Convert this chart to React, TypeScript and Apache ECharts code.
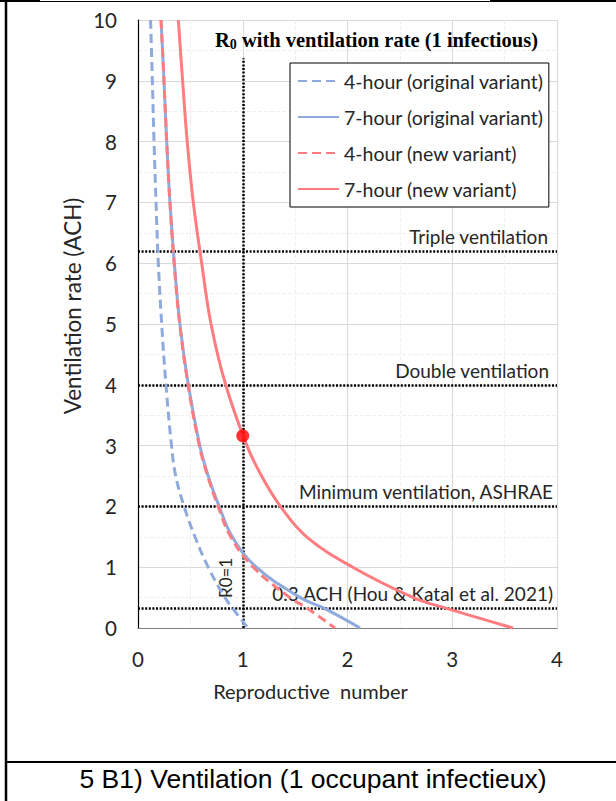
import React, { useEffect, useRef } from "react";
import * as echarts from "echarts";

// Ventilation rate (ACH) levels at which the curves were read
const achLevels = [10, 9, 8, 7, 6, 5, 4, 3, 2.5, 2, 1.5, 1, 0.5, 0.33, 0];
// Reproductive number for each series at those levels
const r4hOriginal = [0.12, 0.137, 0.153, 0.172, 0.194, 0.226, 0.267, 0.32, 0.36, 0.44, 0.544, 0.67, 0.83, 0.9, 1.05];
const r7hOriginal = [0.22, 0.248, 0.274, 0.305, 0.347, 0.4, 0.48, 0.59, 0.67, 0.775, 0.9, 1.13, 1.55, 1.77, 2.12];
const r4hNew = [0.22, 0.248, 0.274, 0.305, 0.345, 0.398, 0.478, 0.585, 0.665, 0.765, 0.885, 1.1, 1.45, 1.61, 1.88];
const r7hNew = [0.385, 0.426, 0.47, 0.528, 0.608, 0.697, 0.837, 1.04, 1.18, 1.36, 1.61, 2.05, 2.63, 2.93, 3.58];

const seriesNames = [
  "4-hour (original variant)",
  "7-hour (original variant)",
  "4-hour (new variant)",
  "7-hour (new variant)",
];

// Reference ventilation levels and their labels
const refLevels = [6.2, 4, 2, 0.33];
const refLabels = [
  "Triple ventilation",
  "Double ventilation",
  "Minimum ventilation, ASHRAE",
  "0.3 ACH (Hou & Katal et al. 2021)",
];
const refLabelOffsets = [9, 8, 4, 4];
const r0Line = 1;
const r0LineTop = 9.37;
const highlightPoint = [1, 3.16];

const xTicks = [0, 1, 2, 3, 4];
const yTicks = [0, 1, 2, 3, 4, 5, 6, 7, 8, 9, 10];

const FONT = "Lato";
const BLUE = "#8faadc";
const RED = "#ff7c80";

const pairs = (rs: number[]) => rs.map((r, i) => [r, achLevels[i]]);

export default function App() {
  const ref = useRef<HTMLDivElement>(null);
  useEffect(() => {
    if (!ref.current) return;
    const chart = echarts.init(ref.current, null, { renderer: "svg" });
    const lineBase = {
      type: "line",
      symbol: "none",
      smooth: 0.4,
      z: 3,
    };
    const option: any = {
      animation: false,
      backgroundColor: "#ffffff",
      title: {
        text: "{a|R}{b|0}{a| with ventilation rate (1 infectious)}",
        left: 215,
        top: 28,
        padding: 0,
        textStyle: {
          rich: {
            a: { fontFamily: "Liberation Serif", fontWeight: "bold", fontSize: 20.5, color: "#000" },
            b: { fontFamily: "Liberation Serif", fontWeight: "bold", fontSize: 14, color: "#000", padding: [9, 0, 0, 0] },
          },
        },
      },
      grid: { left: 138, top: 20, width: 419, height: 608, containLabel: false },
      legend: {
        orient: "vertical",
        left: 290,
        top: 63,
        padding: [8, 5, 8, 7],
        itemGap: 16,
        itemWidth: 41,
        itemHeight: 18,
        borderColor: "#000",
        borderWidth: 1,
        backgroundColor: "#fff",
        itemStyle: { opacity: 0 },
        textStyle: { fontFamily: FONT, fontSize: 19.5, color: "#262626", lineHeight: 20 },
        data: seriesNames,
        z: 10,
      },
      xAxis: [
        {
          type: "value",
          min: 0,
          max: 4,
          interval: 1,
          axisLine: { lineStyle: { color: "#a6a6a6", width: 1 } },
          axisTick: { show: false },
          axisLabel: {
            margin: 20,
            fontFamily: FONT,
            fontSize: 20.5,
            color: "#262626",
            customValues: xTicks,
          },
          splitLine: { lineStyle: { color: "#d9d9d9", width: 1 } },
          minorTick: { show: false, splitNumber: 2 },
          minorSplitLine: { show: true, lineStyle: { color: "#efefef", type: "dashed" } },
        },
        {
          type: "value",
          position: "top",
          min: 0,
          max: 4,
          interval: 1,
          axisLine: { show: true, lineStyle: { color: "#7f7f7f", width: 1 } },
          axisTick: { show: false },
          axisLabel: { show: false },
          splitLine: { show: false },
        },
      ],
      yAxis: [
        {
          type: "value",
          min: 0,
          max: 10,
          interval: 1,
          axisLine: { show: true, lineStyle: { color: "#a6a6a6", width: 1 } },
          axisTick: { show: false },
          axisLabel: {
            margin: 21,
            fontFamily: FONT,
            fontSize: 20.5,
            color: "#262626",
            customValues: yTicks,
          },
          splitLine: { lineStyle: { color: "#d9d9d9", width: 1 } },
          minorTick: { show: false, splitNumber: 2 },
          minorSplitLine: { show: true, lineStyle: { color: "#efefef", type: "dashed" } },
        },
        {
          type: "value",
          position: "right",
          min: 0,
          max: 10,
          interval: 1,
          axisLine: { show: true, lineStyle: { color: "#000", width: 1.2 } },
          axisTick: { show: false },
          axisLabel: { show: false },
          splitLine: { show: false },
        },
      ],
      series: [
        {
          ...lineBase,
          name: seriesNames[0],
          data: pairs(r4hOriginal),
          color: BLUE,
          lineStyle: { color: BLUE, width: 3, type: [9, 5] },
        },
        {
          ...lineBase,
          name: seriesNames[1],
          data: pairs(r7hOriginal),
          color: BLUE,
          lineStyle: { color: BLUE, width: 3, type: "solid" },
        },
        {
          ...lineBase,
          name: seriesNames[2],
          data: pairs(r4hNew),
          color: RED,
          lineStyle: { color: RED, width: 3, type: [9, 5] },
          z: 4,
        },
        {
          ...lineBase,
          name: seriesNames[3],
          data: pairs(r7hNew),
          color: RED,
          lineStyle: { color: RED, width: 3, type: "solid" },
          z: 4,
        },
        {
          type: "scatter",
          name: "point",
          data: [highlightPoint],
          symbolSize: 13,
          itemStyle: { color: "#ff0000" },
          z: 6,
          markLine: {
            silent: true,
            symbol: ["none", "none"],
            z: 2,
            lineStyle: { color: "#000", width: 2.5, type: [2, 1.6] },
            label: {
              fontFamily: FONT,
              fontSize: 19,
              color: "#262626",
            },
            data: [
              ...refLevels.map((v, i) => ({
                yAxis: v,
                label: {
                  show: true,
                  position: "insideEndTop",
                  formatter: refLabels[i],
                  distance: [refLabelOffsets[i], 5],
                },
              })),
              [
                {
                  coord: [r0Line, 0],
                  label: {
                    show: true,
                    position: "insideStartTop",
                    formatter: "R0=1",
                    distance: [30, 9],
                    fontSize: 17,
                  },
                },
                { coord: [r0Line, r0LineTop] },
              ],
            ],
          },
        },
      ],
      graphic: [
        {
          type: "text",
          x: 72,
          y: 306,
          rotation: Math.PI / 2,
          style: {
            text: "Ventilation rate (ACH)",
            fontFamily: FONT,
            fontSize: 22.5,
            fill: "#262626",
            align: "center",
            verticalAlign: "middle",
          },
        },
        {
          type: "text",
          x: 310.5,
          y: 691,
          style: {
            text: "Reproductive  number",
            fontFamily: FONT,
            fontSize: 20,
            fill: "#262626",
            align: "center",
            verticalAlign: "middle",
          },
        },
        {
          type: "text",
          x: 313,
          y: 779,
          style: {
            text: "5 B1) Ventilation (1 occupant infectieux)",
            fontFamily: "Liberation Sans",
            fontSize: 26.5,
            fill: "#000",
            align: "center",
            verticalAlign: "middle",
          },
        },
        { type: "line", shape: { x1: 6, y1: 0, x2: 6, y2: 801 }, style: { stroke: "#000", lineWidth: 2.5 } },
        { type: "line", shape: { x1: 6, y1: 762, x2: 616, y2: 762 }, style: { stroke: "#000", lineWidth: 2 } },
        { type: "line", shape: { x1: 0, y1: 1.5, x2: 616, y2: 1.5 }, style: { stroke: "#000", lineWidth: 1.2 } },
        { type: "line", shape: { x1: 0, y1: 0.8, x2: 40, y2: 0.8 }, style: { stroke: "#000", lineWidth: 2 } },
        { type: "line", shape: { x1: 490, y1: 0.8, x2: 616, y2: 0.8 }, style: { stroke: "#000", lineWidth: 2 } },
      ],
    };
    chart.setOption(option);
    return () => chart.dispose();
  }, []);
  return (
    <div
      ref={ref}
      style={{ position: "absolute", left: 0, top: 0, width: 616, height: 801, background: "#fff" }}
    />
  );
}
